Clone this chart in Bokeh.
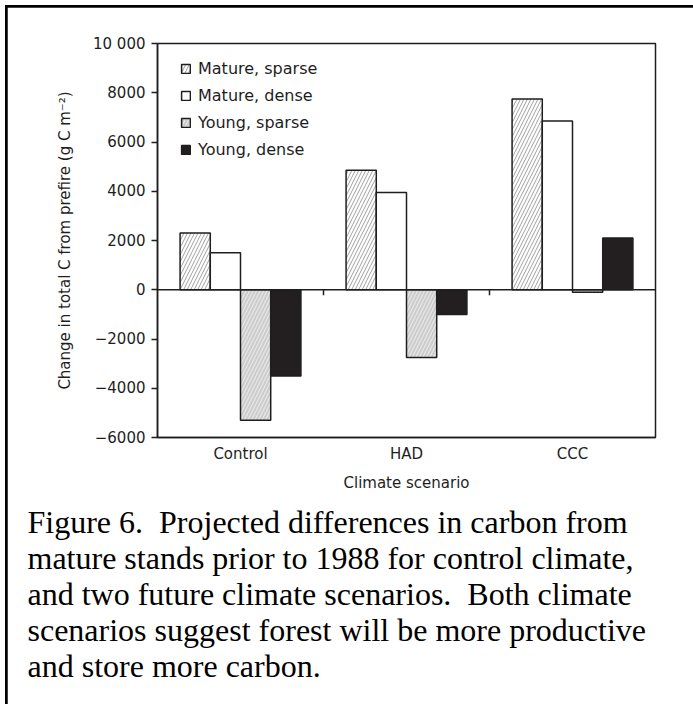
from bokeh.plotting import figure
from bokeh.models import Range1d, FixedTicker, Legend, LegendItem, Span, Title
from bokeh.layouts import column
from bokeh.embed import file_html
from bokeh.resources import INLINE

# ---------------- data ----------------
categories = ["Control", "HAD", "CCC"]
series_names = ["Mature, sparse", "Mature, dense", "Young, sparse", "Young, dense"]
mature_sparse = [2300, 4850, 7750]
mature_dense = [1500, 3950, 6850]
young_sparse = [-5300, -2750, -100]
young_dense = [-3500, -1000, 2100]
y_ticks = [-6000, -4000, -2000, 0, 2000, 4000, 6000, 8000, 10000]
y_tick_labels = ["\u22126000", "\u22124000", "\u22122000", "0", "2000", "4000", "6000", "8000", "10 000"]
y_label = "Change in total C from prefire (g C m\u207b\u00b2)"
x_label = "Climate scenario"
caption_lines = [
    "Figure 6.\u00a0 Projected differences in carbon from",
    "mature stands prior to 1988 for control climate,",
    "and two future climate scenarios.\u00a0 Both climate",
    "scenarios suggest forest will be more productive",
    "and store more carbon.",
]

FONT = "DejaVu Sans"
TXT = "#1e1e1e"
EDGE = "#1e1e1e"

n = len(categories)
p = figure(width=686, height=697,
           x_range=Range1d(0, n), y_range=Range1d(-6000, 10000),
           output_backend="svg", toolbar_location=None,
           min_border_left=150, min_border_top=36, min_border_right=38, min_border_bottom=267)
p.xgrid.visible = False
p.ygrid.visible = False
p.outline_line_color = EDGE
p.outline_line_width = 1.5
p.outline_line_alpha = 1.0
p.background_fill_color = "white"
p.border_fill_color = "white"

bw = 0.182
series = [mature_sparse, mature_dense, young_sparse, young_dense]
styles = [
    dict(fill_color="white", hatch_pattern="/", hatch_color="#a0a0a0", hatch_scale=7, hatch_weight=1),
    dict(fill_color="white"),
    dict(fill_color="#cdcdcd", hatch_pattern="/", hatch_color="#ededed", hatch_scale=7, hatch_weight=1),
    dict(fill_color="#231f20"),
]
renderers = []
for j, (vals, st) in enumerate(zip(series, styles)):
    off = (j - (len(series) - 1) / 2) * bw
    xs = [i + 0.5 + off for i in range(n)]
    r = p.vbar(x=xs, top=vals, bottom=0, width=bw, line_color=EDGE, line_width=1.5, **st)
    renderers.append(r)

p.add_layout(Span(location=0, dimension="width", line_color=EDGE, line_width=1.5))
bounds = list(range(1, n))
p.segment(x0=bounds, y0=[0] * len(bounds), x1=bounds, y1=[-220] * len(bounds),
          line_color=EDGE, line_width=1.5)

legend = Legend(items=[LegendItem(label=nm, renderers=[r]) for nm, r in zip(series_names, renderers)],
                location=(23, 278), padding=0, margin=0, spacing=7,
                glyph_width=11, glyph_height=11, label_height=20, label_standoff=7,
                border_line_color=None, background_fill_alpha=0,
                label_text_font=FONT, label_text_font_size="16px", label_text_color=TXT)
p.add_layout(legend)

# y axis
ya = p.yaxis[0]
ya.ticker = FixedTicker(ticks=y_ticks)
ya.major_label_overrides = dict(zip(y_ticks, y_tick_labels))
ya.minor_tick_line_color = None
ya.major_tick_in = 0
ya.major_tick_out = 6
ya.major_tick_line_width = 1.5
ya.major_tick_line_color = EDGE
ya.axis_line_color = EDGE
ya.axis_line_width = 1.5
ya.major_label_standoff = 6
ya.major_label_text_font = FONT
ya.major_label_text_font_size = "15px"
ya.major_label_text_color = TXT
ya.axis_label = y_label
ya.axis_label_text_font = FONT
ya.axis_label_text_font_size = "15px"
ya.axis_label_text_font_style = "normal"
ya.axis_label_text_color = TXT
ya.axis_label_standoff = 16

# x axis
xa = p.xaxis[0]
xa.ticker = FixedTicker(ticks=[i + 0.5 for i in range(n)])
xa.major_label_overrides = {i + 0.5: c for i, c in enumerate(categories)}
xa.major_tick_line_color = None
xa.minor_tick_line_color = None
xa.axis_line_color = EDGE
xa.axis_line_width = 1.5
xa.major_label_standoff = 1
xa.major_label_text_font = FONT
xa.major_label_text_font_size = "15px"
xa.major_label_text_color = TXT
xa.axis_label = x_label
xa.axis_label_text_font = FONT
xa.axis_label_text_font_size = "15px"
xa.axis_label_text_font_style = "normal"
xa.axis_label_text_color = TXT
xa.axis_label_standoff = 8

# caption as one multi-line title below the axis
p.add_layout(Title(text="\n".join(caption_lines), align="left", offset=-130,
                   text_font="Liberation Serif", text_font_size="32px",
                   text_font_style="normal", text_color="black",
                   text_line_height=1.0, standoff=14), "below")

# page frame: black shows only through the top and left padding
layout = column(p, styles={"background-color": "black", "padding-top": "2px", "padding-left": "2px",
                           "margin-left": "5px", "margin-top": "5px"})

open("out.html", "w").write(file_html(layout, INLINE))
